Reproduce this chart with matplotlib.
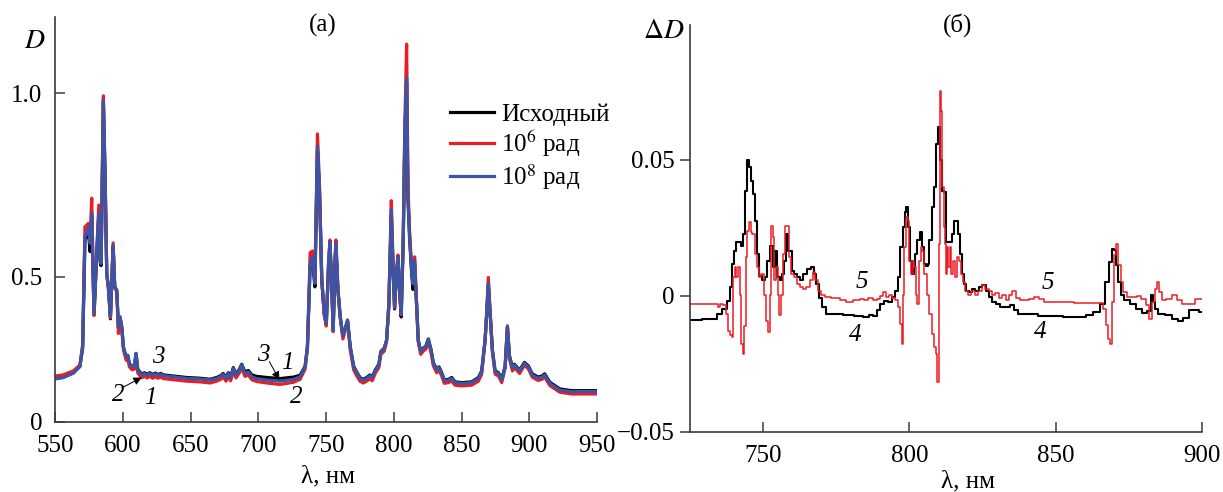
import matplotlib
matplotlib.use("Agg")
import matplotlib.pyplot as plt

plt.rcParams['font.family'] = ['Liberation Serif', 'DejaVu Serif']
plt.rcParams['mathtext.fontset'] = 'stix'

# ---- panel (a): absorption spectra D(lambda) ----
wl = [550, 556, 563.5, 568.4, 570.4, 572.1, 573.3, 574.6, 575.9, 577.1,
      578.8, 580.8, 582.3, 583.3, 584.0, 585.7, 587.0, 588.2, 589.4, 590.9,
      592.9, 594.1, 595.6, 596.8, 598.0, 599.3, 600.5, 602.5, 603.7, 604.9,
      606.9, 608.6, 609.8, 611.1, 614.0, 616, 618, 620, 622, 624,
      626, 628, 630, 637, 647, 657, 664.4, 669.3, 671.8, 674.2,
      676.2, 677.9, 679.6, 681.6, 683.6, 686.0, 687.8, 690.2, 692.7, 695.2,
      698.9, 706.3, 716.1, 726.0, 730.9, 734.6, 736.3, 738.3, 740.0, 741.8,
      743.7, 745.2, 746.9, 748.7, 750.2, 751.9, 752.9, 754.1, 755.3, 756.6,
      757.3, 758.8, 760.5, 762.5, 764.5, 765.9, 767.9, 770.4, 772.9, 775.3,
      777.5, 780.0, 782.4, 784.1, 786.6, 789.0, 790.5, 793.0, 794.7, 796.4,
      798.2, 799.4, 800.6, 801.8, 803.1, 804.3, 805.5, 807.0, 808.2, 809.5,
      810.5, 811.7, 813.2, 814.2, 815.4, 816.7, 818.1, 819.9, 821.8, 823.8,
      825.5, 827.5, 829.2, 831.7, 833.4, 835.4, 837.3, 840.3, 842.8, 845.2,
      850.2, 857.5, 862.5, 864.9, 867.4, 868.6, 869.8, 871.3, 872.8, 874.8,
      877.3, 879.7, 882.2, 883.9, 885.4, 887.6, 889.1, 892.9, 896.4, 899.3,
      902.2, 906.5, 909.4, 911.4, 915.2, 922.5, 931.2, 950]

d_blue = [0.221, 0.2245, 0.2365, 0.2545, 0.309, 0.609, 0.618, 0.636, 0.591, 0.673,
          0.400, 0.564, 0.673, 0.546, 0.536, 0.982, 0.764, 0.509, 0.473, 0.391,
          0.586, 0.473, 0.464, 0.364, 0.391, 0.364, 0.309, 0.282, 0.286, 0.264,
          0.2545, 0.256, 0.291, 0.245, 0.232, 0.236, 0.232, 0.236, 0.231, 0.235,
          0.231, 0.234, 0.230, 0.227, 0.2227, 0.221, 0.218, 0.2227, 0.227, 0.234,
          0.2227, 0.236, 0.224, 0.250, 0.232, 0.245, 0.259, 0.236, 0.240, 0.227,
          0.222, 0.218, 0.215, 0.220, 0.227, 0.2545, 0.309, 0.536, 0.554, 0.482,
          0.855, 0.736, 0.491, 0.400, 0.373, 0.536, 0.594, 0.491, 0.355, 0.536,
          0.591, 0.464, 0.391, 0.338, 0.364, 0.382, 0.309, 0.2545, 0.236, 0.222,
          0.218, 0.2227, 0.230, 0.224, 0.2455, 0.259, 0.295, 0.304, 0.327, 0.427,
          0.682, 0.536, 0.418, 0.500, 0.552, 0.464, 0.398, 0.600, 0.900, 1.041,
          0.718, 0.609, 0.518, 0.480, 0.545, 0.436, 0.327, 0.295, 0.304, 0.310,
          0.329, 0.300, 0.264, 0.2455, 0.252, 0.236, 0.2165, 0.218, 0.2227, 0.211,
          0.209, 0.211, 0.2227, 0.241, 0.327, 0.400, 0.482, 0.391, 0.300, 0.241,
          0.236, 0.218, 0.2545, 0.364, 0.282, 0.250, 0.259, 0.2427, 0.264, 0.255,
          0.232, 0.223, 0.226, 0.232, 0.209, 0.191, 0.1865, 0.1865]

d_red = [0.229, 0.232, 0.243, 0.259, 0.315, 0.636, 0.640, 0.645, 0.600, 0.714,
         0.395, 0.570, 0.695, 0.550, 0.540, 0.993, 0.770, 0.512, 0.470, 0.388,
         0.592, 0.470, 0.458, 0.345, 0.380, 0.355, 0.300, 0.272, 0.278, 0.254,
         0.246, 0.248, 0.284, 0.237, 0.224, 0.228, 0.224, 0.228, 0.223, 0.227,
         0.223, 0.226, 0.222, 0.219, 0.215, 0.213, 0.210, 0.215, 0.219, 0.226,
         0.215, 0.228, 0.216, 0.242, 0.224, 0.237, 0.251, 0.228, 0.232, 0.219,
         0.214, 0.210, 0.206, 0.212, 0.220, 0.248, 0.305, 0.565, 0.570, 0.490,
         0.889, 0.750, 0.495, 0.395, 0.365, 0.540, 0.600, 0.490, 0.350, 0.545,
         0.600, 0.470, 0.388, 0.330, 0.358, 0.378, 0.300, 0.246, 0.228, 0.214,
         0.210, 0.215, 0.222, 0.216, 0.238, 0.252, 0.288, 0.297, 0.322, 0.430,
         0.707, 0.545, 0.415, 0.505, 0.559, 0.465, 0.396, 0.610, 0.920, 1.134,
         0.750, 0.620, 0.525, 0.490, 0.554, 0.440, 0.322, 0.288, 0.297, 0.303,
         0.322, 0.293, 0.257, 0.238, 0.245, 0.229, 0.209, 0.211, 0.215, 0.204,
         0.202, 0.204, 0.215, 0.234, 0.325, 0.405, 0.498, 0.392, 0.295, 0.234,
         0.229, 0.211, 0.250, 0.366, 0.276, 0.243, 0.252, 0.236, 0.258, 0.249,
         0.226, 0.217, 0.220, 0.226, 0.203, 0.185, 0.180, 0.180]

d_black = [0.223, 0.226, 0.238, 0.256, 0.305, 0.600, 0.610, 0.625, 0.568, 0.665,
           0.395, 0.560, 0.665, 0.540, 0.530, 0.975, 0.760, 0.505, 0.470, 0.385,
           0.582, 0.470, 0.462, 0.360, 0.388, 0.362, 0.307, 0.280, 0.285, 0.262,
           0.256, 0.257, 0.290, 0.247, 0.234, 0.238, 0.234, 0.238, 0.233, 0.237,
           0.233, 0.236, 0.232, 0.229, 0.225, 0.223, 0.220, 0.225, 0.229, 0.236,
           0.225, 0.238, 0.226, 0.252, 0.234, 0.247, 0.261, 0.240, 0.244, 0.232,
           0.228, 0.225, 0.222, 0.226, 0.231, 0.256, 0.309, 0.530, 0.548, 0.472,
           0.845, 0.730, 0.488, 0.398, 0.370, 0.530, 0.588, 0.488, 0.352, 0.530,
           0.585, 0.462, 0.390, 0.336, 0.362, 0.380, 0.308, 0.256, 0.238, 0.224,
           0.220, 0.225, 0.232, 0.226, 0.247, 0.261, 0.296, 0.305, 0.326, 0.420,
           0.670, 0.530, 0.412, 0.495, 0.545, 0.458, 0.390, 0.595, 0.890, 1.030,
           0.710, 0.605, 0.510, 0.465, 0.535, 0.432, 0.326, 0.296, 0.305, 0.311,
           0.330, 0.301, 0.266, 0.247, 0.254, 0.238, 0.218, 0.220, 0.225, 0.213,
           0.211, 0.213, 0.225, 0.243, 0.327, 0.398, 0.478, 0.390, 0.300, 0.243,
           0.238, 0.220, 0.256, 0.362, 0.284, 0.252, 0.261, 0.245, 0.266, 0.257,
           0.235, 0.226, 0.229, 0.235, 0.212, 0.194, 0.189, 0.189]

labels_a = ['Исходный', '10$^6$ рад', '10$^8$ рад']

# ---- panel (б): difference spectra dD(lambda) ----
wl4 = [725, 733.5, 735.2, 736.9, 738.3, 739.0, 739.8, 740.4, 740.9, 742.1,
       742.9, 743.6, 744.0, 744.8, 745.4, 746.1, 746.8, 747.4, 748.1, 748.9,
       750.1, 751.0, 751.8, 752.9, 753.8, 754.5, 755.2, 756.1, 756.9, 757.4,
       758.2, 758.8, 759.5, 760.1, 760.9, 762.0, 763.2, 764.3, 765.7, 766.8,
       767.7, 768.6, 769.4, 770.6, 772.3, 775.7, 779.1, 783.1, 785.4, 787.1,
       788.2, 789.4, 790.5, 792.2, 793.3, 794.5, 795.6, 796.5, 797.3, 798.1,
       798.7, 799.1, 799.7, 800.4, 801.1, 801.7, 802.4, 803.1, 803.8, 804.5,
       805.2, 805.9, 806.5, 807.2, 807.9, 808.6, 809.3, 810.0, 810.7, 811.4,
       812.1, 812.8, 813.4, 814.1, 814.8, 815.6, 816.3, 816.9, 817.6, 818.3,
       819.1, 819.9, 820.8, 822.0, 823.1, 824.3, 825.6, 826.5, 827.7, 828.8,
       830.5, 831.7, 833.4, 835.1, 836.2, 837.9, 842.5, 845.3, 859.7, 861.2,
       864.1, 866.3, 867.7, 868.7, 869.6, 870.3, 871.0, 871.8, 872.8, 874.2,
       876.4, 878.6, 880.7, 881.9, 882.9, 883.6, 884.4, 885.8, 888.7, 890.9,
       892.8, 894.5, 896.7, 898.1, 899.6, 900]
dd4 = [-0.0087, -0.0084, -0.0065, -0.0047, -0.0017, 0.0032, 0.0118, 0.0167, 0.0198, 0.0198,
       0.0185, 0.0228, 0.0387, 0.0500, 0.0474, 0.0424, 0.0375, 0.0277, 0.0155, 0.0075,
       0.0057, 0.0069, 0.0130, 0.0185, 0.0106, 0.0167, 0.0069, 0.0057, 0.0081, 0.0130,
       0.0228, 0.0167, 0.0167, 0.0093, 0.0081, 0.0069, 0.0057, 0.0081, 0.0100, 0.0106,
       0.0081, 0.0045, -0.0009, -0.0041, -0.0065, -0.0065, -0.0071, -0.0072, -0.0078, -0.0070,
       -0.0075, -0.0053, -0.0029, -0.0017, -0.0022, -0.0004, 0.0020, 0.0069, 0.0179, 0.0253,
       0.0308, 0.0326, 0.0253, 0.0130, 0.0081, 0.0106, 0.0155, 0.0204, 0.0234, 0.0179,
       0.0118, 0.0112, 0.0118, 0.0204, 0.0326, 0.0400, 0.0559, 0.0620, 0.0498, 0.0387,
       0.0381, 0.0198, 0.0198, 0.0198, 0.0228, 0.0277, 0.0277, 0.0228, 0.0155, 0.0081,
       0.0045, 0.0020, 0.0014, 0.0026, 0.0020, 0.0032, 0.0039, 0.0020, -0.0004, -0.0022,
       -0.0029, -0.0041, -0.0041, -0.0035, -0.0051, -0.0065, -0.0068, -0.0072, -0.0077, -0.0071,
       -0.0059, -0.0028, 0.0051, 0.0125, 0.0174, 0.0168, 0.0113, 0.0051, 0.0002, -0.0016,
       -0.0028, -0.0047, -0.0061, -0.0055, 0.0002, -0.0022, -0.0047, -0.0065, -0.0071, -0.0083,
       -0.0093, -0.0080, -0.0053, -0.0050, -0.0059, -0.0059]

wl5 = [725, 734.1, 735.0, 735.8, 736.9, 737.7, 738.4, 739.0, 739.5, 740.0,
       740.5, 741.1, 741.7, 742.2, 742.8, 743.4, 743.8, 744.3, 744.8, 745.4,
       746.0, 746.7, 747.4, 748.1, 748.8, 749.9, 750.6, 751.3, 752.0, 752.4,
       753.0, 753.5, 754.1, 754.7, 755.2, 755.9, 756.5, 757.1, 757.6, 758.4,
       759.0, 759.8, 761.1, 762.0, 763.0, 764.2, 765.3, 766.5, 767.3, 768.2,
       769.3, 770.5, 771.6, 775.1, 777.3, 779.6, 781.9, 784.2, 784.8, 786.6,
       788.2, 789.4, 790.5, 791.7, 792.5, 793.3, 794.5, 795.6, 796.5, 797.2,
       797.6, 798.1, 798.5, 799.1, 799.7, 800.2, 800.8, 801.3, 801.9, 802.4,
       803.0, 803.6, 804.1, 804.7, 805.5, 806.4, 807.2, 807.9, 808.6, 809.3,
       809.8, 810.1, 810.5, 811.0, 811.4, 811.9, 812.3, 812.7, 813.1, 813.6,
       814.0, 814.6, 815.1, 815.8, 816.5, 817.2, 817.8, 818.6, 819.5, 820.6,
       821.8, 822.9, 824.0, 825.4, 826.6, 827.7, 828.9, 829.8, 831.2, 832.3,
       833.5, 834.6, 835.8, 836.9, 838.4, 840.1, 841.8, 843.6, 845.3, 847.0,
       865.5, 866.7, 867.4, 868.1, 868.9, 869.4, 870.2, 871.0, 871.8, 872.5,
       873.5, 874.9, 877.1, 878.6, 880.0, 881.5, 882.6, 883.3, 884.4, 885.1,
       885.8, 887.0, 888.7, 890.9, 892.3, 893.8, 897.4, 898.1, 899.6, 900]
dd5 = [-0.0030, -0.0030, -0.0041, -0.0028, -0.0035, -0.0065, -0.0127, -0.0145, -0.0151, 0.0069,
       0.0106, 0.0069, 0.0106, 0.0004, -0.0176, -0.0212, -0.0110, 0.0142, 0.0240, 0.0271,
       0.0234, 0.0228, 0.0155, 0.0106, 0.0069, 0.0081, 0.0004, -0.0093, -0.0133, 0.0004,
       0.0259, 0.0216, 0.0057, 0.0106, 0.0004, -0.0071, 0.0004, 0.0155, 0.0259, 0.0259,
       0.0142, 0.0081, 0.0069, 0.0045, 0.0032, 0.0026, 0.0032, 0.0057, 0.0087, 0.0057,
       0.0020, 0.0004, -0.0002, -0.0007, -0.0014, -0.0022, -0.0016, -0.0010, -0.0016, -0.0007,
       -0.0016, -0.0010, -0.0001, 0.0014, -0.0004, 0.0004, -0.0007, -0.0016, -0.0041, -0.0102,
       -0.0176, 0.0004, 0.0179, 0.0289, 0.0277, 0.0130, 0.0081, 0.0130, 0.0106, 0.0004,
       -0.0029, 0.0130, 0.0179, 0.0167, 0.0081, 0.0004, -0.0065, -0.0139, -0.0188, -0.0212,
       -0.0316, 0.0192, 0.0754, 0.0681, 0.0400, 0.0253, 0.0192, 0.0081, 0.0179, 0.0106,
       0.0179, 0.0081, 0.0130, 0.0069, 0.0142, 0.0130, 0.0081, 0.0051, 0.0020, 0.0004,
       0.0020, 0.0004, 0.0020, 0.0039, 0.0026, 0.0020, 0.0004, 0.0010, -0.0007, 0.0004,
       -0.0014, 0.0002, 0.0017, -0.0007, -0.0016, -0.0014, -0.0010, -0.0004, -0.0010, -0.0022,
       -0.0024, -0.0047, -0.0108, -0.0157, -0.0175, -0.0022, 0.0149, 0.0192, 0.0113, 0.0051,
       0.0015, -0.0004, -0.0004, 0.0000, -0.0010, -0.0034, -0.0083, -0.0022, 0.0027, 0.0051,
       0.0015, -0.0016, -0.0010, 0.0002, -0.0016, -0.0028, -0.0028, -0.0010, -0.0012, -0.0012]

W, H = 1223, 492
fig = plt.figure(figsize=(W / 100, H / 100), dpi=100)
axL = fig.add_axes([55 / W, 70 / H, 542 / W, 405 / H])
axR = fig.add_axes([690 / W, 60 / H, 512 / W, 407 / H])

spine_c = '#3a3a3a'
for ax in (axL, axR):
    for s in ('top', 'right'):
        ax.spines[s].set_visible(False)
    for s in ('left', 'bottom'):
        ax.spines[s].set_color(spine_c)
        ax.spines[s].set_linewidth(1.2)

# panel (a)
lk, = axL.plot(wl, d_black, color='black', lw=2.3)
lr, = axL.plot(wl, d_red, color='#ec1c24', lw=2.3)
lb, = axL.plot(wl, d_blue, color='#3b54a4', lw=2.3)
axL.set_xlim(550, 950)
axL.set_ylim(0.1036, 1.208)
axL.set_xticks(range(550, 951, 50))
axL.set_yticks([0.1036, 0.5, 1.0])
axL.set_yticklabels(['0', '0.5', '1.0'])
axL.tick_params(direction='in', length=7, width=1.1, color=spine_c,
                labelsize=18, pad=9)
axL.set_xlabel('λ, нм', fontsize=18)
axL.xaxis.set_label_coords(0.504, -0.108)

axL.legend([lk, lr, lb], labels_a, loc='upper left',
           bbox_to_anchor=(450 / W, 1 - 103 / H), bbox_transform=fig.transFigure,
           frameon=False, fontsize=18, handlelength=1.75, handletextpad=0.3,
           labelspacing=0.12, borderpad=0, borderaxespad=0)

tkw = dict(fontsize=18, style='italic', ha='center', va='center')
axL.text(626.0, 0.281, '3', **tkw)
axL.text(596.5, 0.177, '2', **tkw)
axL.text(620.1, 0.169, '1', **tkw)
axL.text(703.7, 0.286, '3', **tkw)
axL.text(721.4, 0.264, '1', **tkw)
axL.text(728.4, 0.173, '2', **tkw)
akw = dict(arrowstyle='-|>', lw=0.7, color='black', mutation_scale=12,
           shrinkA=0, shrinkB=0)
axL.annotate('', xy=(614.0, 0.225), xytext=(599.5, 0.197), arrowprops=akw)
axL.annotate('', xy=(715.6, 0.219), xytext=(708.2, 0.268), arrowprops=akw)

# panel (б)
axR.plot(wl4, dd4, color='black', lw=1.5, drawstyle='steps-mid')
axR.plot(wl5, dd5, color='#ec1c24', lw=1.1, drawstyle='steps-mid')
axR.set_xlim(725, 900)
axR.set_ylim(-0.05, 0.0996)
axR.set_xticks([750, 800, 850, 900])
axR.set_yticks([-0.05, 0, 0.05])
axR.set_yticklabels(['−0.05', '0', '0.05'])
axR.tick_params(axis='x', direction='in', length=7, width=1.1, color=spine_c,
                labelsize=18, pad=9)
axR.tick_params(axis='y', direction='out', length=7, width=1.1, color=spine_c,
                labelsize=18, pad=4)
axR.set_xlabel('λ, нм', fontsize=18)
axR.xaxis.set_label_coords(0.543, -0.094)

axR.text(783.8, 0.0050, '5', **tkw)
axR.text(781.4, -0.0145, '4', **tkw)
axR.text(847.3, 0.0047, '5', **tkw)
axR.text(844.6, -0.0132, '4', **tkw)

# panel letters and axis names
fig.text(323 / W, 1 - 25 / H, '(а)', fontsize=18, ha='center', va='center')
fig.text(958 / W, 1 - 25 / H, '(б)', fontsize=18, ha='center', va='center')
fig.text(35 / W, 1 - 42 / H, '$D$', fontsize=20, ha='center', va='center')
fig.text(664 / W, 1 - 32 / H, r'$\Delta D$', fontsize=20, ha='center', va='center')

fig.savefig('out.png', dpi=100)
